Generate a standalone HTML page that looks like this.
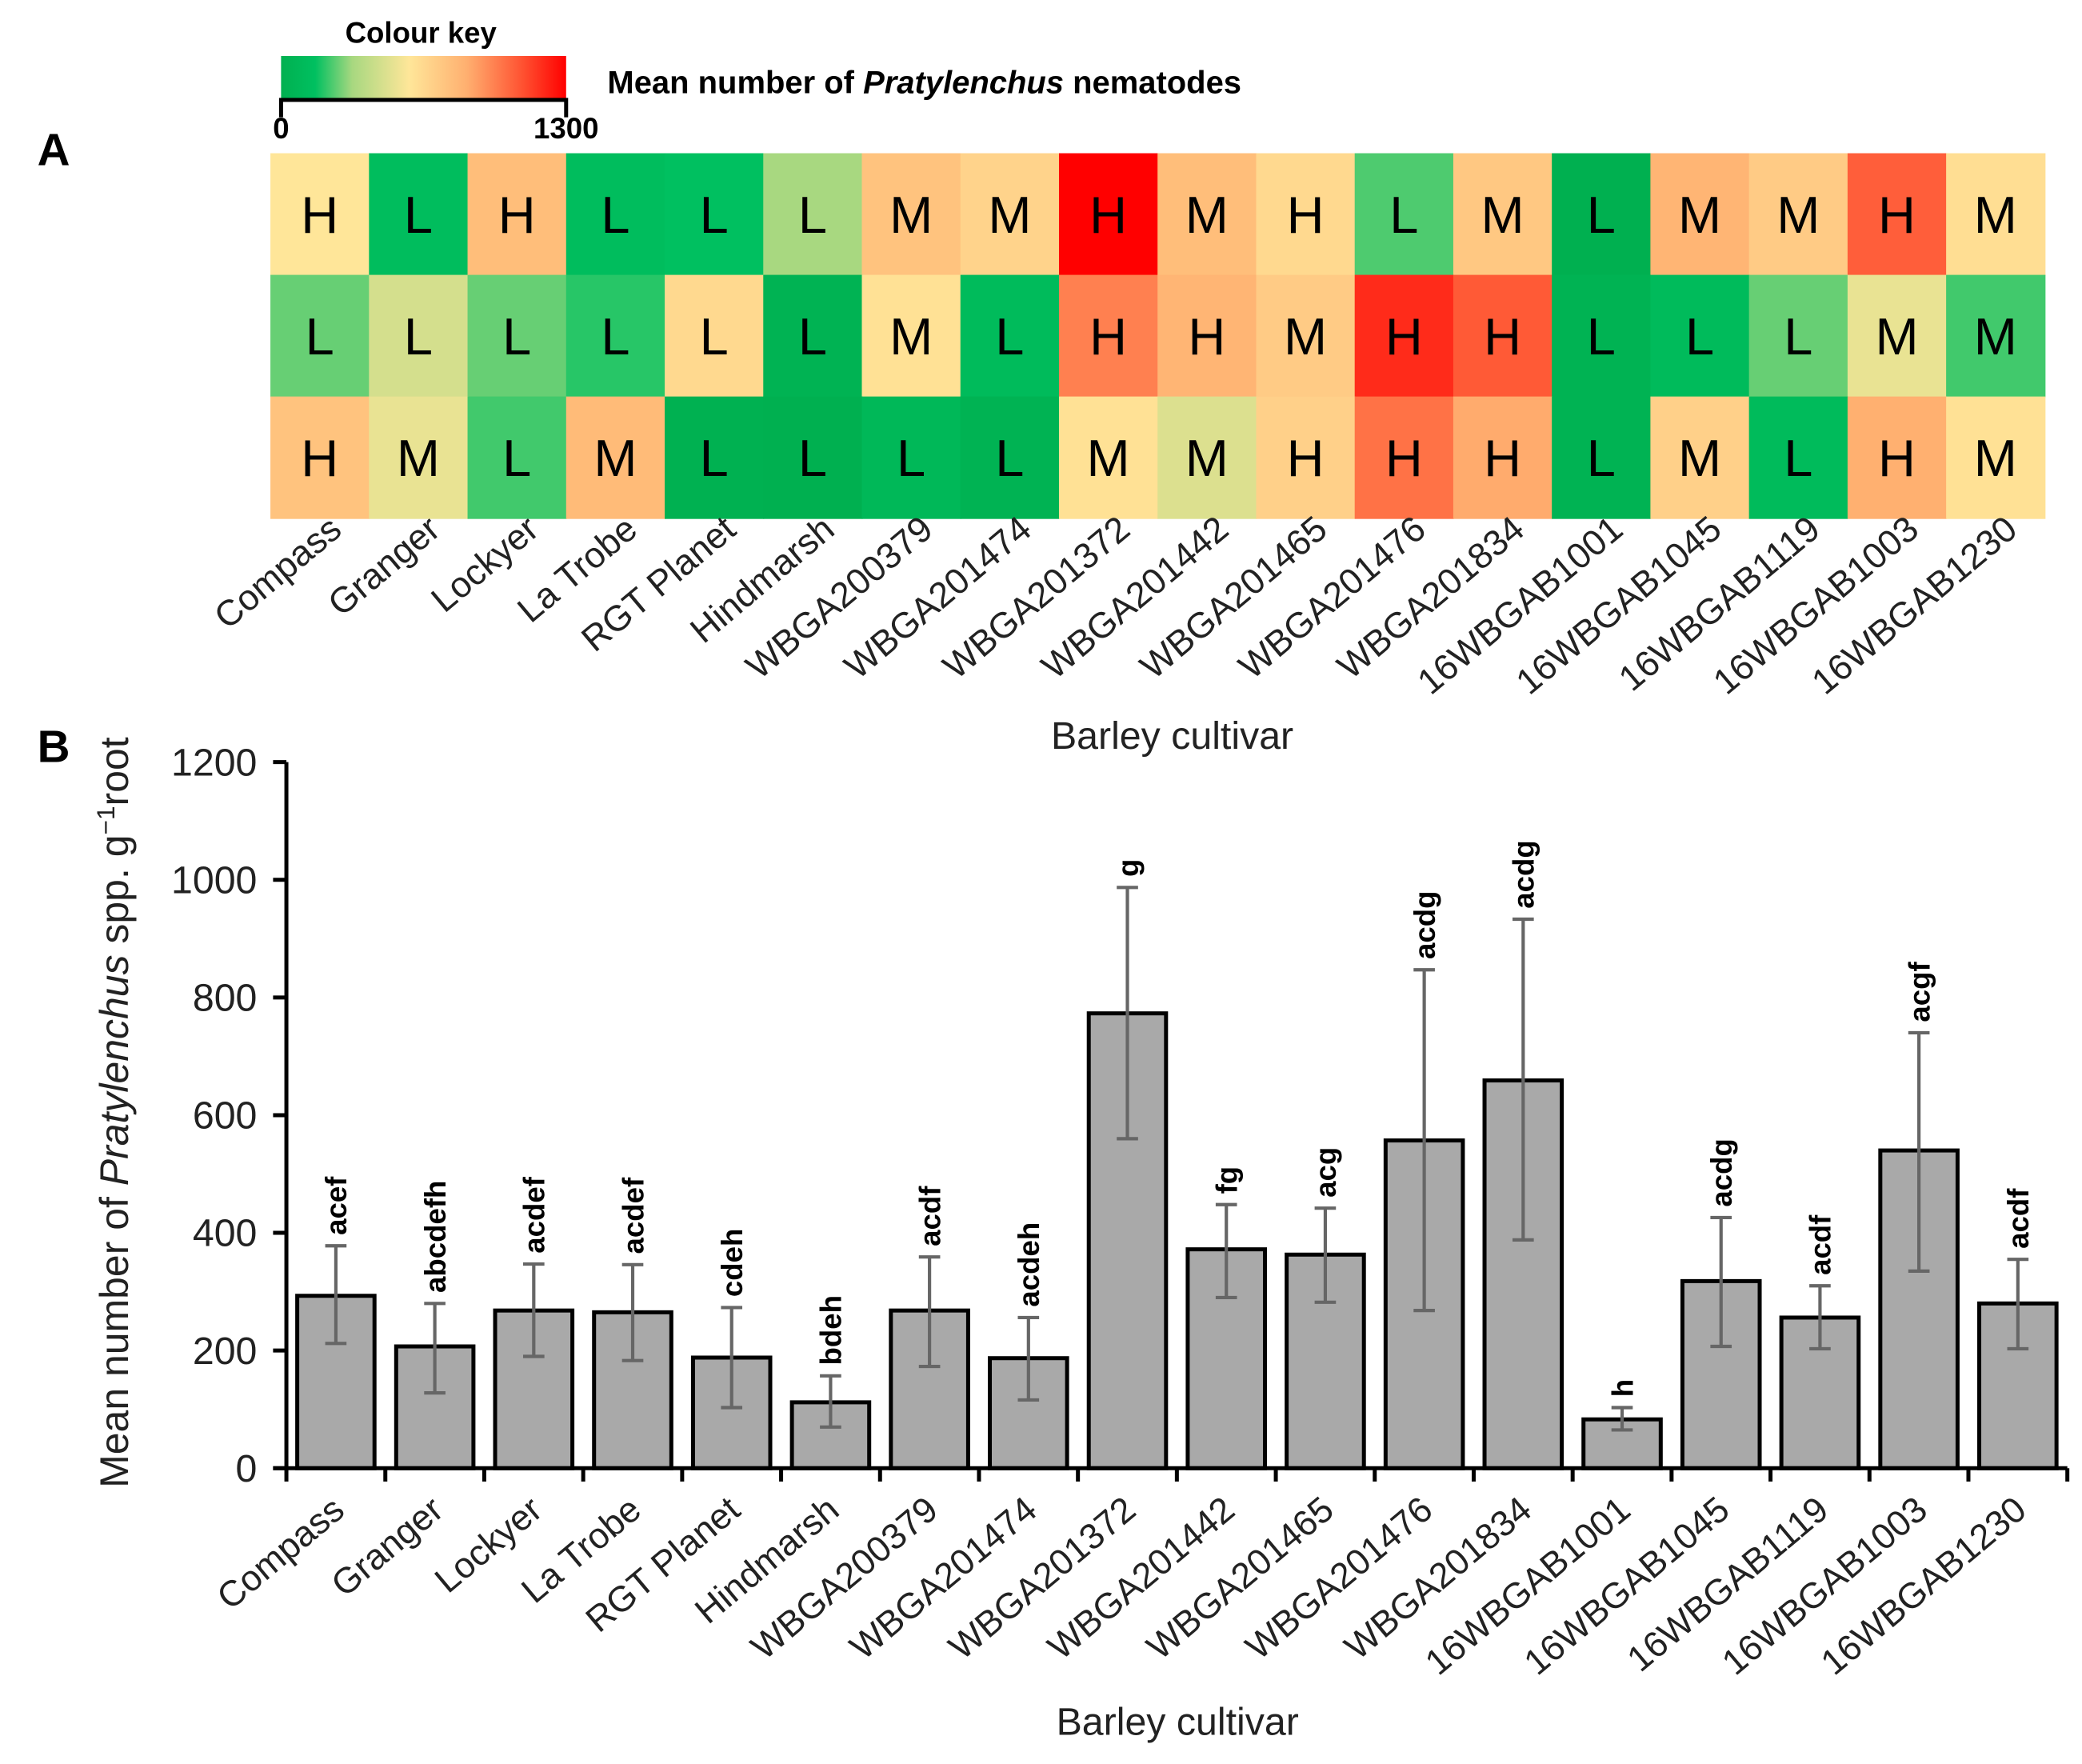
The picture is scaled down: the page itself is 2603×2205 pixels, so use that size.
<!DOCTYPE html>
<html><head><meta charset="utf-8"><style>
html,body{margin:0;padding:0;background:#fff}
svg{display:block}
text{font-family:"Liberation Sans",sans-serif}
</style></head><body>
<svg id="fig" width="2603" height="2205" viewBox="0 0 1563 1324" xmlns="http://www.w3.org/2000/svg">
<defs>
<linearGradient id="keygrad" x1="0" x2="1" y1="0" y2="0">
<stop offset="0" stop-color="#00b050"/><stop offset="0.12" stop-color="#00c060"/>
<stop offset="0.25" stop-color="#a8d880"/><stop offset="0.45" stop-color="#ffe699"/>
<stop offset="0.65" stop-color="#ffb070"/><stop offset="0.85" stop-color="#ff5030"/>
<stop offset="1" stop-color="#ff0000"/>
</linearGradient>
</defs>
<text x="28" y="124" font-size="34" font-weight="bold">A</text>
<text x="28" y="572" font-size="34" font-weight="bold">B</text>
<g>
<text x="316" y="32" font-size="22" font-weight="bold" text-anchor="middle">Colour key</text>
<rect x="211" y="42" width="214" height="32" fill="url(#keygrad)"/>
<path d="M211 88 V75 H425 V88" fill="none" stroke="#000" stroke-width="3"/>
<text x="211" y="104" font-size="22" font-weight="bold" text-anchor="middle">0</text>
<text x="425" y="104" font-size="22" font-weight="bold" text-anchor="middle">1300</text>
<text x="456" y="70" font-size="24" font-weight="bold">Mean number of <tspan font-style="italic">Pratylenchus</tspan> nematodes</text>
</g>
<g id="heat"></g>
<g id="bars"></g>
<text x="880" y="562" font-size="29" text-anchor="middle" fill="#222">Barley cultivar</text>
<text x="884" y="1302" font-size="29" text-anchor="middle" fill="#222">Barley cultivar</text>
<text transform="translate(96,835) rotate(-90)" font-size="30" text-anchor="middle" fill="#222">Mean number of <tspan font-style="italic">Pratylenchus</tspan> spp. g<tspan dy="-10" font-size="19">−1</tspan><tspan dy="10">root</tspan></text>
</svg>
<script>
var cultivars=["Compass","Granger","Lockyer","La Trobe","RGT Planet","Hindmarsh","WBGA200379","WBGA201474","WBGA201372","WBGA201442","WBGA201465","WBGA201476","WBGA201834","16WBGAB1001","16WBGAB1045","16WBGAB1119","16WBGAB1003","16WBGAB1230"];
var heatRow1=[585,130,780,130,156,325,754,676,1300,780,650,234,728,0,819,715,1066,624];
var heatRow2=[260,455,260,195,650,26,611,104,975,819,715,1196,1079,26,104,260,520,221];
var heatRow3=[754,520,221,793,13,0,78,26,611,481,689,1014,858,26,689,104,845,611];
var heatLetters1=["H","L","H","L","L","L","M","M","H","M","H","L","M","L","M","M","H","M"];
var heatLetters2=["L","L","L","L","L","L","M","L","H","H","M","H","H","L","L","L","M","M"];
var heatLetters3=["H","M","L","M","L","L","L","L","M","M","H","H","H","L","M","L","H","M"];
var means=[293,207,268,265,188,112,268,187,773,372,363,557,659,83,318,256,540,280];
var errUpper=[378,280,347,346,273,157,359,256,987,448,442,847,933,103,426,310,740,355];
var errLower=[212,128,190,183,103,70,173,116,560,290,282,268,388,65,207,203,335,203];
var sigLetters=["acef","abcdefh","acdef","acdef","cdeh","bdeh","acdf","acdeh","g","fg","acg","acdg","acdg","h","acdg","acdf","acgf","acdf"];
var yTicks=[0,200,400,600,800,1000,1200];

var NS="http://www.w3.org/2000/svg";
function mk(t,a,p){var e=document.createElementNS(NS,t);for(var k in a)e.setAttribute(k,a[k]);p.appendChild(e);return e;}
var stops=[[0,[0,176,80]],[0.12,[0,192,96]],[0.25,[168,216,128]],[0.45,[255,230,153]],[0.65,[255,176,112]],[0.85,[255,80,48]],[1,[255,0,0]]];
function colour(v){var t=Math.max(0,Math.min(1,v/1300));for(var i=1;i<stops.length;i++){if(t<=stops[i][0]){var a=stops[i-1],b=stops[i],f=(t-a[0])/(b[0]-a[0]);var c=a[1].map(function(x,j){return Math.round(x+(b[1][j]-x)*f);});return "rgb("+c.join(",")+")";}}return "rgb(255,0,0)";}

var heat=document.getElementById('heat');
var hx0=203,hx1=1535,hy0=115,rowH=91.3,colW=(hx1-hx0)/cultivars.length;
function hx(i){return hx0+i*colW;}
function hy(r){return hy0+r*rowH;}
var rows=[heatRow1,heatRow2,heatRow3],lets=[heatLetters1,heatLetters2,heatLetters3];
rows.forEach(function(row,r){row.forEach(function(v,i){
  var c=mk('rect',{x:hx(i),y:hy(r),width:colW+0.6,height:rowH+0.6,fill:colour(v)},heat);
  
  
  var t=mk('text',{x:hx(i)+colW/2,y:hy(r)+rowH/2+14,'font-size':39,'text-anchor':'middle'},heat);
  t.textContent=lets[r][i];
  
  
});});
cultivars.forEach(function(n,i){
  var cx=hx(i)+colW/2+18,cy=400;
  var t=mk('text',{x:cx,y:cy,'font-size':27,'text-anchor':'end',fill:'#222',transform:'rotate(-40 '+cx+' '+cy+')'},heat);
  t.textContent=n;
  
  
});

var g=document.getElementById('bars');
var ax0=215,ax1=1552,yb=1102,ytop=572;
var bw=(ax1-ax0)/cultivars.length;
function xc(i){return ax0+(i+0.5)*bw;}
function ys(v){return yb-(v/1200)*(yb-ytop);}
yTicks.forEach(function(v){
  var l=mk('line',{x1:ax0-10,x2:ax0,y1:ys(v),y2:ys(v),stroke:'#000','stroke-width':3},g);
  
  
  var t=mk('text',{x:ax0-22,y:ys(v)+10,'font-size':29,'text-anchor':'end',fill:'#222'},g);
  t.textContent=v;
  
  
});
means.forEach(function(m,i){
  var b=mk('rect',{x:xc(i)-29,y:ys(m),width:58,height:yb-ys(m),fill:'#a9a9a9',stroke:'#000','stroke-width':3},g);
  
  
  var e=mk('path',{d:'M'+xc(i)+' '+ys(errUpper[i])+' V'+ys(errLower[i])+' M'+(xc(i)-8)+' '+ys(errUpper[i])+' h16 M'+(xc(i)-8)+' '+ys(errLower[i])+' h16',stroke:'#666','stroke-width':2.5,fill:'none'},g);
  
  
  var lx=xc(i)+8,ly=ys(errUpper[i])-8;
  var s=mk('text',{x:lx,y:ly,'font-size':22,'font-weight':'bold',transform:'rotate(-90 '+lx+' '+ly+')'},g);
  s.textContent=sigLetters[i];
  
  
});
for(var k=0;k<=cultivars.length;k++){
  var tk=mk('line',{x1:ax0+k*bw,x2:ax0+k*bw,y1:yb,y2:yb+10,stroke:'#000','stroke-width':3},g);
  
  
}
var ya=mk('line',{x1:ax0,x2:ax0,y1:ytop,y2:yb,stroke:'#000','stroke-width':3},g);


var xa=mk('line',{x1:ax0-10,x2:ax1,y1:yb,y2:yb,stroke:'#000','stroke-width':3},g);


cultivars.forEach(function(n,i){
  var cx=xc(i)+8,cy=1136;
  var t=mk('text',{x:cx,y:cy,'font-size':27,'text-anchor':'end',fill:'#222',transform:'rotate(-40 '+cx+' '+cy+')'},g);
  t.textContent=n;
  
  
});
</script>
</body></html>
